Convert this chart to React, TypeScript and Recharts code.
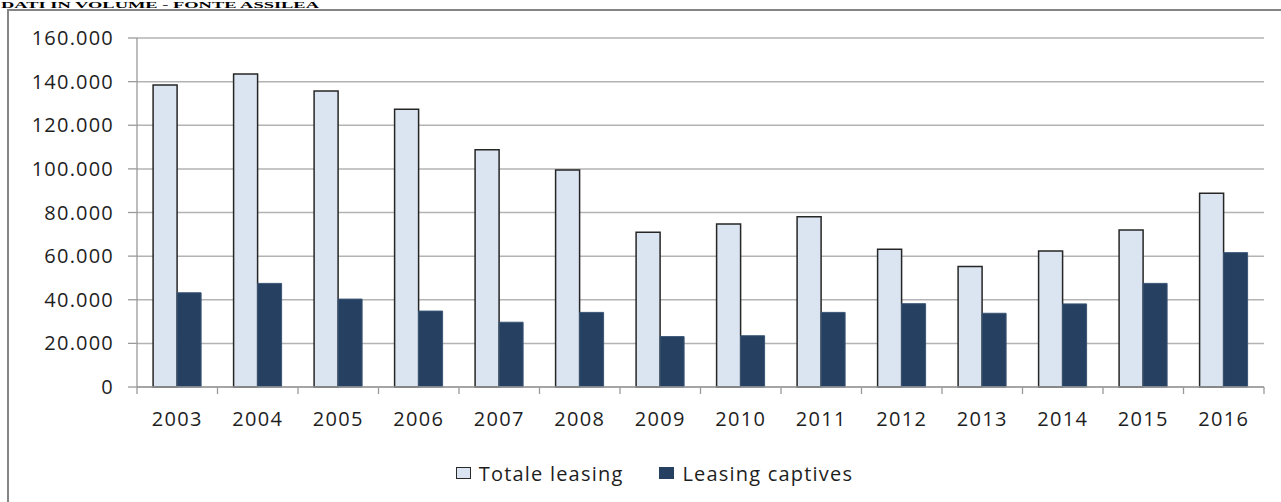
import { BarChart, Bar, XAxis, YAxis, CartesianGrid, Legend } from "recharts";

const years = ["2003", "2004", "2005", "2006", "2007", "2008", "2009", "2010", "2011", "2012", "2013", "2014", "2015", "2016"];
const totaleLeasing = [138500, 143500, 135700, 127300, 108800, 99500, 70900, 74700, 78100, 63100, 55300, 62400, 72000, 88800];
const leasingCaptives = [43200, 47500, 40300, 34800, 29700, 34200, 23100, 23500, 34200, 38200, 33800, 38100, 47500, 61600];
const yTicks = [0, 20000, 40000, 60000, 80000, 100000, 120000, 140000, 160000];

const data = years.map((year, i) => ({
  year,
  totale: totaleLeasing[i],
  captives: leasingCaptives[i],
}));

const WIDTH = 1281;
const HEIGHT = 502;
const MARGIN = { top: 38, right: 17, left: 0, bottom: 9 };
const Y_AXIS_WIDTH = 137;
const BAND = (WIDTH - MARGIN.left - Y_AXIS_WIDTH - MARGIN.right) / years.length;

const FONT = "'Open Sans', 'Noto Sans', sans-serif";
const TEXT = "#1e1e1e";
const AXIS = "#9a9a9a";
const LIGHT = "#dbe5f1";
const DARK = "#254061";

function formatThousands(v: number): string {
  return String(v).replace(/\B(?=(\d{3})+(?!\d))/g, ".");
}

// category labels with tick marks on the band edges, Excel style
function YearTick(props: any) {
  const { x, y, payload, index } = props;
  const left = x - BAND / 2;
  const right = x + BAND / 2;
  return (
    <g>
      <line x1={left} x2={left} y1={y} y2={y + 7} stroke={AXIS} strokeWidth={1.3} />
      {index === years.length - 1 && (
        <line x1={right} x2={right} y1={y} y2={y + 7} stroke={AXIS} strokeWidth={1.3} />
      )}
      <text
        x={x}
        y={y + 39}
        textAnchor="middle"
        fill={TEXT}
        fontSize={20}
        fontFamily={FONT}
        letterSpacing={1.3}
      >
        {payload.value}
      </text>
    </g>
  );
}

function LegendContent() {
  const items = [
    { label: "Totale leasing", fill: LIGHT, border: "#2a2a2a" },
    { label: "Leasing captives", fill: DARK, border: DARK },
  ];
  return (
    <div
      style={{
        display: "flex",
        justifyContent: "center",
        alignItems: "center",
        height: 40,
        paddingLeft: 28,
        boxSizing: "border-box",
        gap: 36,
        fontFamily: FONT,
        fontSize: 20,
        letterSpacing: 1.2,
        color: TEXT,
      }}
    >
      {items.map((item) => (
        <div key={item.label} style={{ display: "flex", alignItems: "center", gap: 8 }}>
          <div
            style={{
              width: 15,
              height: 12,
              boxSizing: "border-box",
              background: item.fill,
              border: `1.5px solid ${item.border}`,
            }}
          />
          <span>{item.label}</span>
        </div>
      ))}
    </div>
  );
}

export default function App() {
  return (
    <div
      style={{
        position: "absolute",
        left: 0,
        top: 0,
        width: WIDTH,
        height: HEIGHT,
        overflow: "hidden",
        background: "#fff",
      }}
    >
      <svg width={420} height={12} style={{ position: "absolute", left: 0, top: 0 }}>
        <text
          x={1}
          y={8.3}
          fontFamily="'Liberation Serif', serif"
          fontWeight="bold"
          fontSize={9}
          fill="#000"
          textLength={318}
          lengthAdjust="spacingAndGlyphs"
        >
          DATI IN VOLUME - FONTE ASSILEA
        </text>
      </svg>
      <div
        style={{
          position: "absolute",
          left: 7,
          top: 9,
          width: WIDTH,
          height: HEIGHT,
          border: "2px solid #858585",
        }}
      />
      <div style={{ position: "absolute", left: 0, top: 0 }}>
        <BarChart
          width={WIDTH}
          height={HEIGHT}
          data={data}
          margin={MARGIN}
          barCategoryGap="20%"
          barGap={0}
        >
          <CartesianGrid vertical={false} stroke="#b3b3b3" strokeWidth={1.5} />
          <XAxis
            dataKey="year"
            height={66}
            tickSize={0}
            tickMargin={0}
            tickLine={false}
            axisLine={{ stroke: AXIS, strokeWidth: 1.3 }}
            tick={<YearTick />}
            interval={0}
          />
          <YAxis
            width={Y_AXIS_WIDTH}
            domain={[0, 160000]}
            ticks={yTicks}
            tickFormatter={formatThousands}
            tickSize={9}
            tickMargin={14}
            axisLine={{ stroke: AXIS, strokeWidth: 1.3 }}
            tickLine={{ stroke: AXIS, strokeWidth: 1.3 }}
            tick={{ fill: TEXT, fontSize: 20, fontFamily: FONT, letterSpacing: 1.2 }}
          />
          <Legend
            verticalAlign="bottom"
            content={<LegendContent />}
            wrapperStyle={{ height: 40, left: 0, width: WIDTH }}
          />
          <Bar
            dataKey="totale"
            name="Totale leasing"
            fill={LIGHT}
            stroke="#262626"
            strokeWidth={1.5}
            isAnimationActive={false}
          />
          <Bar
            dataKey="captives"
            name="Leasing captives"
            fill={DARK}
            stroke="#3a5576"
            strokeWidth={1}
            isAnimationActive={false}
          />
        </BarChart>
      </div>
    </div>
  );
}
